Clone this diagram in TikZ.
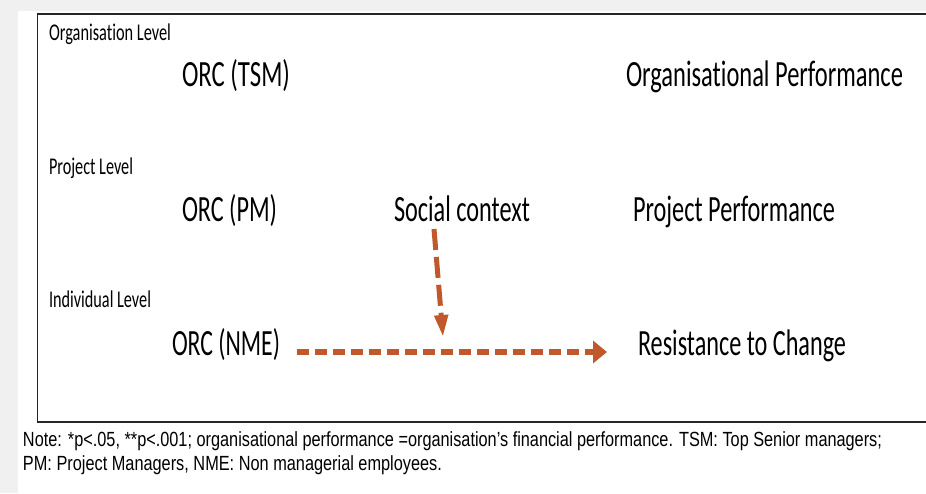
\documentclass[tikz,border=0pt]{standalone}
\usepackage{fontspec}
\usepackage{graphicx}
\setmainfont{Carlito}[Ligatures=NoCommon]
\newfontfamily\notefont{Liberation Sans}
\usetikzlibrary{arrows.meta}
\definecolor{arrowc}{RGB}{192,88,44}
\definecolor{bandgray}{RGB}{240,240,240}
\newcommand\fitw[2]{\resizebox{#1pt}{\height}{#2}}
\tikzset{
  lbl/.style={anchor=base west, inner sep=0pt, outer sep=0pt, font=\fontsize{24}{26}\selectfont},
  big/.style={anchor=base west, inner sep=0pt, outer sep=0pt, font=\fontsize{37}{39}\selectfont},
  note/.style={anchor=base west, inner sep=0pt, outer sep=0pt, font=\notefont\fontsize{20.5}{22}\selectfont},
  dashh/.style={draw=arrowc, line width=6.5pt, dash pattern=on 12pt off 6pt, -{Triangle[width=22pt,length=14pt]}},
  dashv/.style={draw=arrowc, line width=5pt, dash pattern=on 21pt off 7pt, -{Triangle[width=13pt,length=22pt]}}
}
\begin{document}
\begin{tikzpicture}[x=1pt,y=-1pt]
\useasboundingbox (0,0) rectangle (926,493);
\fill[white] (0,0) rectangle (926,493);
\fill[bandgray] (0,0) rectangle (926,11);
\fill[bandgray] (0,0) rectangle (18,493);
\fill[white] (18,11) rectangle (926,493);
\draw[line width=1.3pt, black!85] (937,14) -- (37.5,14) -- (37.5,422) -- (937,422);
% level labels
\node[lbl] (lo) at (49,40) {\fitw{122}{Organisation Level}};
\node[lbl] (lp) at (49,174) {\fitw{84}{Project Level}};
\node[lbl] (li) at (49,307) {\fitw{102}{Individual Level}};
% main labels
\node[big] (tsm) at (182,86) {\fitw{108}{ORC (TSM)}};
\node[big] (op) at (626,86) {\fitw{277}{Organisational Performance}};
\node[big] (pm) at (182,221) {\fitw{95}{ORC (PM)}};
\node[big] (sc) at (394,221) {\fitw{136}{Social context}};
\node[big] (pp) at (633,221) {\fitw{202}{Project Performance}};
\node[big] (nme) at (172,355) {\fitw{108}{ORC (NME)}};
\node[big] (rc) at (638,355) {\fitw{208}{Resistance to Change}};
% arrows
\coordinate (hs) at (297,352);
\coordinate (he) at (607,352);
\coordinate (vs) at (434,229);
\coordinate (ve) at (443,337);
\draw[dashh] (hs) -- (he);
\draw[dashv] (vs) -- (ve);
% note
\node[note] (n1) at (23,446) {\fitw{859}{Note: *p<.05, **p<.001; organisational performance =organisation’s financial performance. TSM: Top Senior managers;}};
\node[note] (n2) at (23,470) {\fitw{419}{PM: Project Managers, NME: Non managerial employees.}};
\end{tikzpicture}
\end{document}
